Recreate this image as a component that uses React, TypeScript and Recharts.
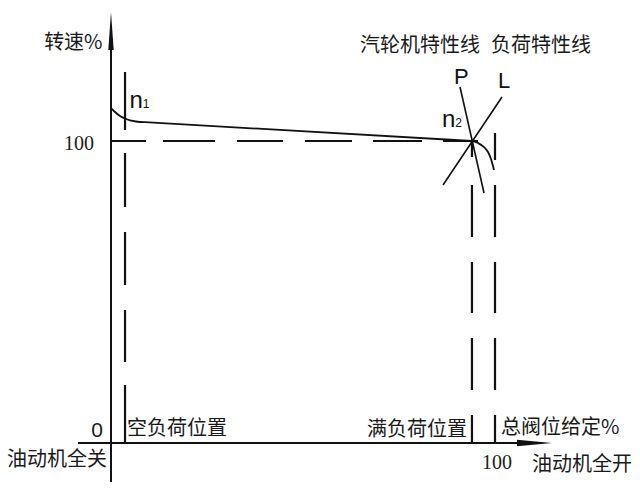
import React from "react";
import { ComposedChart, Line, XAxis, YAxis, ReferenceLine, ReferenceDot } from "recharts";

// ---- data (valve position %, speed %) ----
const turbineBend = [
  { x: 0, y: 110.93 },
  { x: 1.04, y: 109.6 },
  { x: 2.34, y: 108.28 },
  { x: 3.65, y: 107.45 },
  { x: 4.95, y: 106.85 },
  { x: 6.51, y: 106.46 },
  { x: 8.85, y: 106.23 },
];
const turbineMain = [
  { x: 8.85, y: 106.23 },
  { x: 94, y: 100 },
];
const turbineDroop = [
  { x: 94, y: 100 },
  { x: 95.57, y: 99.34 },
  { x: 97.14, y: 98.01 },
  { x: 98.18, y: 96.36 },
  { x: 98.96, y: 94.04 },
  { x: 99.48, y: 91.72 },
  { x: 99.74, y: 90.4 },
];
const lineP = [
  { x: 90.89, y: 117.88 },
  { x: 97.14, y: 82.78 },
];
const lineL = [
  { x: 101.82, y: 114.57 },
  { x: 86.46, y: 85.43 },
];
const noLoadX = 3.65;
const fullLoadX = 94;
const fullOpenX = 100;
const ratedSpeed = 100;

const yTickLabels = ["0", "100"];
const xTickLabels = ["100"];
const axisTitles = ["转速%", "总阀位给定%"];
const positionLabels = ["空负荷位置", "满负荷位置", "油动机全关", "油动机全开"];
const curveTitles = ["汽轮机特性线", "负荷特性线"];
const curveMarks = ["P", "L"];

const INK = "#111";
const CJK = "'Noto Sans CJK SC', 'Noto Sans', sans-serif";
const SANS = "'Liberation Sans', Arial, sans-serif";
const SERIF = "'Liberation Serif', 'Times New Roman', serif";

const txt = (
  content: React.ReactNode,
  opts: { size: number; family: string; anchor?: string; color?: string }
) => (p: any) => (
  <text
    x={p.cx}
    y={p.cy}
    fontSize={opts.size}
    fontFamily={opts.family}
    textAnchor={opts.anchor || "start"}
    fill={opts.color || "#1a1a1a"}
  >
    {content}
  </text>
);

const yArrow = (p: any) => (
  <path d={`M${p.cx},${p.cy} L${p.cx + 2.7},${p.cy + 38} L${p.cx - 2.7},${p.cy + 38} Z`} fill={INK} />
);
const xArrow = (p: any) => (
  <path d={`M${p.cx},${p.cy} L${p.cx - 35},${p.cy - 3.2} L${p.cx - 35},${p.cy + 3.2} Z`} fill={INK} />
);

const lineProps = {
  dataKey: "y",
  stroke: INK,
  dot: false,
  activeDot: false,
  legendType: "none" as const,
  isAnimationActive: false,
};

export default function App() {
  return (
    <div style={{ position: "fixed", left: 0, top: 0, width: 640, height: 489, background: "#fff" }}>
      <ComposedChart width={640} height={489} margin={{ top: 0, right: 0, bottom: 0, left: 0 }}>
        <XAxis type="number" dataKey="x" domain={[-28.906, 137.76]} hide allowDataOverflow />
        <YAxis type="number" dataKey="y" domain={[-15.232, 146.689]} hide allowDataOverflow />

        {/* axes */}
        <ReferenceLine segment={[{ x: 0, y: -12.9 }, { x: 0, y: 131 }]} stroke={INK} strokeWidth={2} />
        <ReferenceLine segment={[{ x: -8.59, y: 0 }, { x: 106, y: 0 }]} stroke={INK} strokeWidth={2} />
        <ReferenceDot x={0} y={142.7} r={1} shape={yArrow} />
        <ReferenceDot x={114.84} y={0} r={1} shape={xArrow} />

        {/* dashed guides */}
        <ReferenceLine
          segment={[{ x: 0, y: ratedSpeed }, { x: 95.57, y: ratedSpeed }]}
          stroke={INK}
          strokeWidth={2.2}
          strokeDasharray="35 17 52 22 46 22 47 21 49 21 35"
        />
        <ReferenceLine
          segment={[{ x: noLoadX, y: 122.85 }, { x: noLoadX, y: 0 }]}
          stroke={INK}
          strokeWidth={2.2}
          strokeDasharray="58 23 54 25 53 25 52 23 58"
        />
        <ReferenceLine
          segment={[{ x: fullLoadX, y: ratedSpeed }, { x: fullLoadX, y: 0 }]}
          stroke={INK}
          strokeWidth={2.2}
          strokeDasharray="16 28 52 25 51 25 52 25 28"
        />
        <ReferenceLine
          segment={[{ x: fullOpenX, y: 102.65 }, { x: fullOpenX, y: 0 }]}
          stroke={INK}
          strokeWidth={2.2}
          strokeDasharray="27 25 52 25 51 25 52 25 28"
        />

        {/* curves */}
        <Line {...lineProps} data={turbineBend} type="monotone" strokeWidth={1.8} />
        <Line {...lineProps} data={turbineMain} type="linear" strokeWidth={1.8} />
        <Line {...lineProps} data={turbineDroop} type="monotone" strokeWidth={1.8} />
        <Line {...lineProps} data={lineP} type="linear" strokeWidth={1.6} />
        <Line {...lineProps} data={lineL} type="linear" strokeWidth={1.6} />

        {/* texts */}
        <ReferenceDot x={-2.2} y={130.6} r={1} shape={txt(axisTitles[0], { size: 20, family: CJK, anchor: "end" })} />
        <ReferenceDot x={64.84} y={129.5} r={1} shape={txt(curveTitles[0], { size: 20, family: CJK })} />
        <ReferenceDot x={98.96} y={129.5} r={1} shape={txt(curveTitles[1], { size: 20, family: CJK })} />
        <ReferenceDot x={4.17} y={2.78} r={1} shape={txt(positionLabels[0], { size: 20, family: CJK })} />
        <ReferenceDot x={92.71} y={2.45} r={1} shape={txt(positionLabels[1], { size: 20, family: CJK, anchor: "end" })} />
        <ReferenceDot x={-27.08} y={-7.48} r={1} shape={txt(positionLabels[2], { size: 20, family: CJK })} />
        <ReferenceDot x={135.68} y={-9.14} r={1} shape={txt(positionLabels[3], { size: 20, family: CJK, anchor: "end" })} />
        <ReferenceDot x={101.56} y={3.11} r={1} shape={txt(axisTitles[1], { size: 20, family: CJK })} />

        <ReferenceDot x={-4.43} y={97.02} r={1} shape={txt(yTickLabels[1], { size: 20, family: SERIF, anchor: "end" })} />
        <ReferenceDot x={-2.08} y={1.99} r={1} shape={txt(yTickLabels[0], { size: 21, family: SANS, anchor: "end" })} />
        <ReferenceDot x={96.61} y={-8.77} r={1} shape={txt(xTickLabels[0], { size: 20, family: SERIF })} />

        <ReferenceDot
          x={4.82}
          y={110.93}
          r={1}
          shape={txt(
            <>
              <tspan>n</tspan>
              <tspan fontSize={12}>1</tspan>
            </>,
            { size: 24, family: SANS, color: INK }
          )}
        />
        <ReferenceDot
          x={86.2}
          y={104.64}
          r={1}
          shape={txt(
            <>
              <tspan>n</tspan>
              <tspan fontSize={12}>2</tspan>
            </>,
            { size: 24, family: SANS, color: INK }
          )}
        />
        <ReferenceDot x={89.32} y={118.87} r={1} shape={txt(curveMarks[0], { size: 22, family: SANS, color: INK })} />
        <ReferenceDot x={100.78} y={117.55} r={1} shape={txt(curveMarks[1], { size: 22, family: SANS, color: INK })} />
      </ComposedChart>
    </div>
  );
}
